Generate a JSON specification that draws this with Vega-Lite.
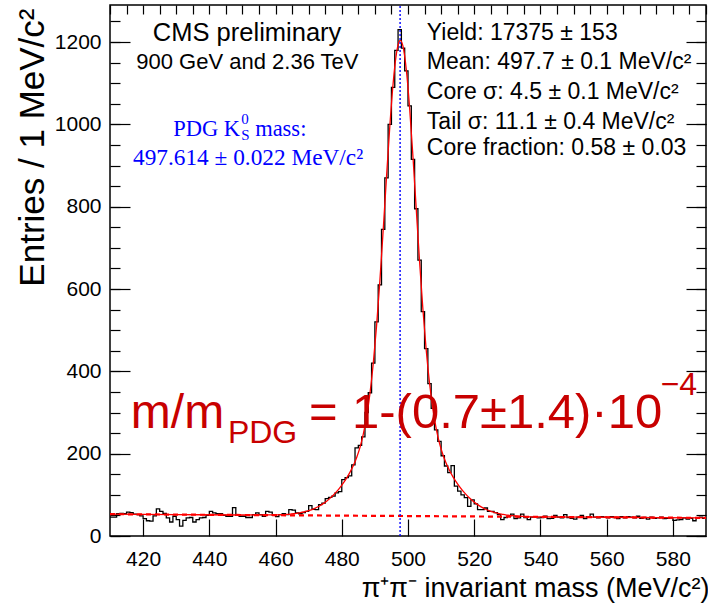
{
 "$schema": "https://vega.github.io/schema/vega-lite/v6.json",
 "width": 596, "height": 531,
 "autosize": {"type": "none"},
 "padding": {"left": 110, "top": 5, "right": 2, "bottom": 67},
 "background": "white",
 "config": {
  "view": {"stroke": "black", "strokeWidth": 1.5},
  "font": "Liberation Sans",
  "axis": {"grid": false, "domain": false, "tickColor": "black", "tickWidth": 1.2, "labelColor": "black", "titleColor": "black", "labelFont": "Liberation Sans", "titleFont": "Liberation Sans", "titleFontWeight": "normal", "labelFontSize": 21}
 },
 "datasets": {
  "hist": [
   {"m":410,"n":46},{"m":411,"n":46},{"m":412,"n":54},{"m":413,"n":55},{"m":414,"n":54},{"m":415,"n":58},{"m":416,"n":57},{"m":417,"n":53},{"m":418,"n":52},{"m":419,"n":49},
   {"m":420,"n":42},{"m":421,"n":37},{"m":422,"n":36},{"m":423,"n":49},{"m":424,"n":66},{"m":425,"n":60},{"m":426,"n":55},{"m":427,"n":44},{"m":428,"n":34},{"m":429,"n":48},
   {"m":430,"n":40},{"m":431,"n":24},{"m":432,"n":38},{"m":433,"n":44},{"m":434,"n":45},{"m":435,"n":34},{"m":436,"n":40},{"m":437,"n":44},{"m":438,"n":45},{"m":439,"n":50},
   {"m":440,"n":60},{"m":441,"n":56},{"m":442,"n":54},{"m":443,"n":54},{"m":444,"n":50},{"m":445,"n":48},{"m":446,"n":48},{"m":447,"n":69},{"m":448,"n":50},{"m":449,"n":48},
   {"m":450,"n":48},{"m":451,"n":45},{"m":452,"n":45},{"m":453,"n":52},{"m":454,"n":56},{"m":455,"n":52},{"m":456,"n":48},{"m":457,"n":60},{"m":458,"n":58},{"m":459,"n":50},
   {"m":460,"n":47},{"m":461,"n":52},{"m":462,"n":54},{"m":463,"n":52},{"m":464,"n":64},{"m":465,"n":63},{"m":466,"n":56},{"m":467,"n":54},{"m":468,"n":57},{"m":469,"n":60},
   {"m":470,"n":74},{"m":471,"n":65},{"m":472,"n":64},{"m":473,"n":76},{"m":474,"n":80},{"m":475,"n":91},{"m":476,"n":94},{"m":477,"n":97},{"m":478,"n":105},{"m":479,"n":108},
   {"m":480,"n":137},{"m":481,"n":142},{"m":482,"n":146},{"m":483,"n":173},{"m":484,"n":214},{"m":485,"n":220},{"m":486,"n":241},{"m":487,"n":300},{"m":488,"n":348},{"m":489,"n":420},
   {"m":490,"n":520},{"m":491,"n":610},{"m":492,"n":745},{"m":493,"n":870},{"m":494,"n":1000},{"m":495,"n":1090},{"m":496,"n":1180},{"m":497,"n":1230},{"m":498,"n":1185},{"m":499,"n":1130},
   {"m":500,"n":1045},{"m":501,"n":915},{"m":502,"n":795},{"m":503,"n":670},{"m":504,"n":545},{"m":505,"n":455},{"m":506,"n":370},{"m":507,"n":310},{"m":508,"n":258},{"m":509,"n":230},
   {"m":510,"n":195},{"m":511,"n":170},{"m":512,"n":154},{"m":513,"n":171},{"m":514,"n":121},{"m":515,"n":109},{"m":516,"n":100},{"m":517,"n":93},{"m":518,"n":72},{"m":519,"n":88},
   {"m":520,"n":78},{"m":521,"n":64},{"m":522,"n":64},{"m":523,"n":68},{"m":524,"n":60},{"m":525,"n":60},{"m":526,"n":57},{"m":527,"n":52},{"m":528,"n":40},{"m":529,"n":45},
   {"m":530,"n":48},{"m":531,"n":53},{"m":532,"n":42},{"m":533,"n":44},{"m":534,"n":53},{"m":535,"n":45},{"m":536,"n":40},{"m":537,"n":46},{"m":538,"n":47},{"m":539,"n":44},
   {"m":540,"n":45},{"m":541,"n":48},{"m":542,"n":42},{"m":543,"n":43},{"m":544,"n":50},{"m":545,"n":46},{"m":546,"n":44},{"m":547,"n":52},{"m":548,"n":45},{"m":549,"n":43},
   {"m":550,"n":41},{"m":551,"n":46},{"m":552,"n":50},{"m":553,"n":42},{"m":554,"n":47},{"m":555,"n":53},{"m":556,"n":46},{"m":557,"n":44},{"m":558,"n":47},{"m":559,"n":46},
   {"m":560,"n":44},{"m":561,"n":47},{"m":562,"n":45},{"m":563,"n":42},{"m":564,"n":47},{"m":565,"n":44},{"m":566,"n":47},{"m":567,"n":46},{"m":568,"n":44},{"m":569,"n":48},
   {"m":570,"n":43},{"m":571,"n":45},{"m":572,"n":41},{"m":573,"n":46},{"m":574,"n":43},{"m":575,"n":44},{"m":576,"n":46},{"m":577,"n":42},{"m":578,"n":43},{"m":579,"n":44},
   {"m":580,"n":38},{"m":581,"n":39},{"m":582,"n":40},{"m":583,"n":44},{"m":584,"n":41},{"m":585,"n":43},{"m":586,"n":37},{"m":587,"n":44},{"m":588,"n":46},{"m":589,"n":43},
   {"m":590,"n":43}
  ],
  "fit": [
   {"m":410,"f":53.0},{"m":430,"f":52.0},{"m":450,"f":51.0},{"m":460.5,"f":51.5},{"m":461.5,"f":51.7},{"m":462.5,"f":52.1},{"m":463.5,"f":52.6},{"m":464.5,"f":53.3},
   {"m":465.5,"f":54.1},{"m":466.5,"f":55.3},{"m":467.5,"f":56.6},{"m":468.5,"f":58.3},{"m":469.5,"f":60.4},{"m":470.5,"f":63.0},{"m":471.5,"f":66.1},{"m":472.5,"f":69.8},
   {"m":473.5,"f":74.2},{"m":474.5,"f":79.3},{"m":475.5,"f":85.2},{"m":476.5,"f":92.0},{"m":477.5,"f":99.7},{"m":478.5,"f":108.4},{"m":479.5,"f":118.1},{"m":480.5,"f":129.1},
   {"m":481.5,"f":141.2},{"m":482.5,"f":155.1},{"m":483.5,"f":171.1},{"m":484.5,"f":190.7},{"m":485.5,"f":215.2},{"m":486.5,"f":247.3},{"m":487.5,"f":289.6},{"m":488.5,"f":345.6},
   {"m":489.5,"f":418.5},{"m":490.5,"f":509.9},{"m":491.5,"f":619.1},{"m":492.5,"f":742.1},{"m":493.5,"f":870.9},{"m":494.5,"f":994.2},{"m":495.5,"f":1098.7},{"m":496.5,"f":1171.7},
   {"m":497.5,"f":1203.4},{"m":497.7,"f":1204.3},{"m":498.5,"f":1189.6},{"m":499.5,"f":1132.1},{"m":500.5,"f":1038.8},{"m":501.5,"f":921.3},{"m":502.5,"f":793.1},{"m":503.5,"f":666.4},
   {"m":504.5,"f":551.0},{"m":505.5,"f":452.0},{"m":506.5,"f":371.8},{"m":507.5,"f":309.3},{"m":508.5,"f":261.6},{"m":509.5,"f":225.8},{"m":510.5,"f":198.5},{"m":511.5,"f":177.1},
   {"m":512.5,"f":159.7},{"m":513.5,"f":144.9},{"m":514.5,"f":132.0},{"m":515.5,"f":120.5},{"m":516.5,"f":110.2},{"m":517.5,"f":101.1},{"m":518.5,"f":92.9},{"m":519.5,"f":85.6},
   {"m":520.5,"f":79.3},{"m":521.5,"f":73.7},{"m":522.5,"f":69.0},{"m":523.5,"f":64.9},{"m":524.5,"f":61.5},{"m":525.5,"f":58.6},{"m":526.5,"f":56.3},{"m":527.5,"f":54.2},
   {"m":528.5,"f":52.7},{"m":529.5,"f":51.3},{"m":530.5,"f":50.3},{"m":531.5,"f":49.4},{"m":532.5,"f":48.8},{"m":533.5,"f":48.2},{"m":535.5,"f":47.3},{"m":540,"f":46.5},
   {"m":560,"f":45.5},{"m":590,"f":44.0}
  ],
  "bkg": [{"m":410,"b":53},{"m":590,"b":44}],
  "one": [{}]
 },
 "resolve": {"axis": {"x": "independent", "y": "independent"}},
 "layer": [
  {
   "data": {"name": "hist"},
   "mark": {"type": "line", "interpolate": "step-after", "color": "black", "strokeWidth": 1.3},
   "encoding": {
    "x": {"field": "m", "type": "quantitative", "scale": {"domain": [410, 590], "nice": false, "zero": false},
     "axis": {"values": [420,440,460,480,500,520,540,560,580], "tickSize": -17, "labelPadding": 29, "format": "d",
      "title": "π⁺π⁻ invariant mass (MeV/c²)", "titleFontSize": 27, "titleAlign": "right", "titleBaseline": "alphabetic", "titleX": 599, "titleY": 60, "titleAngle": 0}},
    "y": {"field": "n", "type": "quantitative", "scale": {"domain": [0, 1290], "nice": false, "zero": false},
     "axis": {"values": [0,200,400,600,800,1000,1200], "tickSize": -20, "labelPadding": 29, "format": "d",
      "title": "Entries / 1 MeV/c²", "titleFontSize": 35, "titleAngle": 270, "titleAlign": "right", "titleBaseline": "alphabetic", "titleX": -67, "titleY": 3}}
   }
  },
  {
   "data": {"name": "fit"},
   "mark": {"type": "line", "interpolate": "monotone", "color": "#ff0000", "strokeWidth": 1.3},
   "encoding": {
    "x": {"field": "m", "type": "quantitative", "scale": {"domain": [410, 590], "nice": false, "zero": false},
     "axis": {"values": [410,415,420,425,430,435,440,445,450,455,460,465,470,475,480,485,490,495,500,505,510,515,520,525,530,535,540,545,550,555,560,565,570,575,580,585,590], "tickSize": -9, "labels": false, "title": null}},
    "y": {"field": "f", "type": "quantitative", "scale": {"domain": [0, 1290], "nice": false, "zero": false},
     "axis": {"values": [0,50,100,150,200,250,300,350,400,450,500,550,600,650,700,750,800,850,900,950,1000,1050,1100,1150,1200,1250], "tickSize": -10, "labels": false, "title": null, "orient": "left"}}
   }
  },
  {
   "data": {"name": "bkg"},
   "mark": {"type": "line", "color": "#ff0000", "strokeWidth": 2.2, "strokeDash": [5, 4]},
   "encoding": {
    "x": {"field": "m", "type": "quantitative", "scale": {"domain": [410, 590], "nice": false, "zero": false}, "axis": null},
    "y": {"field": "b", "type": "quantitative", "scale": {"domain": [0, 1290], "nice": false, "zero": false},
     "axis": {"values": [0,200,400,600,800,1000,1200], "tickSize": -20, "labels": false, "title": null, "orient": "right"}}
   }
  },
  {
   "data": {"name": "one"},
   "mark": {"type": "rule", "color": "#0000ff", "strokeWidth": 1.4, "strokeDash": [2, 2]},
   "encoding": {
    "x": {"datum": 497.614, "type": "quantitative", "scale": {"domain": [410, 590], "nice": false, "zero": false}, "axis": null},
    "y": {"datum": 0, "type": "quantitative", "scale": {"domain": [0, 1290], "nice": false, "zero": false},
     "axis": {"values": [0,50,100,150,200,250,300,350,400,450,500,550,600,650,700,750,800,850,900,950,1000,1050,1100,1150,1200,1250], "tickSize": -10, "labels": false, "title": null, "orient": "right"}},
    "y2": {"datum": 1290}
   }
  },
  {
   "data": {"name": "one"},
   "mark": {"type": "text", "text": "CMS preliminary", "fontSize": 25.5, "align": "center", "baseline": "middle", "color": "black", "font": "Liberation Sans"},
   "encoding": {"x": {"datum": 451.4, "type": "quantitative", "axis": null}, "y": {"datum": 1223, "type": "quantitative", "axis": null}}
  },
  {
   "data": {"name": "one"},
   "mark": {"type": "text", "text": "900 GeV and 2.36 TeV", "fontSize": 22, "align": "center", "baseline": "middle", "color": "black", "font": "Liberation Sans"},
   "encoding": {"x": {"datum": 451.5, "type": "quantitative", "axis": null}, "y": {"datum": 1152, "type": "quantitative", "axis": null}}
  },
  {
   "data": {"name": "one"},
   "mark": {"type": "text", "text": "PDG K", "fontSize": 22.5, "align": "right", "baseline": "middle", "color": "#0000ff", "font": "Liberation Serif"},
   "encoding": {"x": {"datum": 449.3, "type": "quantitative", "axis": null}, "y": {"datum": 988, "type": "quantitative", "axis": null}}
  },
  {
   "data": {"name": "one"},
   "mark": {"type": "text", "text": "0", "fontSize": 15, "align": "left", "baseline": "middle", "dx": 1, "dy": -10, "color": "#0000ff", "font": "Liberation Serif"},
   "encoding": {"x": {"datum": 449.3, "type": "quantitative", "axis": null}, "y": {"datum": 988, "type": "quantitative", "axis": null}}
  },
  {
   "data": {"name": "one"},
   "mark": {"type": "text", "text": "S", "fontSize": 15, "align": "left", "baseline": "middle", "dx": 1, "dy": 6, "color": "#0000ff", "font": "Liberation Serif"},
   "encoding": {"x": {"datum": 449.3, "type": "quantitative", "axis": null}, "y": {"datum": 988, "type": "quantitative", "axis": null}}
  },
  {
   "data": {"name": "one"},
   "mark": {"type": "text", "text": "mass:", "fontSize": 22.5, "align": "left", "baseline": "middle", "dx": 15, "color": "#0000ff", "font": "Liberation Serif"},
   "encoding": {"x": {"datum": 449.3, "type": "quantitative", "axis": null}, "y": {"datum": 988, "type": "quantitative", "axis": null}}
  },
  {
   "data": {"name": "one"},
   "mark": {"type": "text", "text": "497.614 ± 0.022 MeV/c²", "fontSize": 23.3, "align": "center", "baseline": "middle", "color": "#0000ff", "font": "Liberation Serif"},
   "encoding": {"x": {"datum": 451.7, "type": "quantitative", "axis": null}, "y": {"datum": 918, "type": "quantitative", "axis": null}}
  },
  {
   "data": {"name": "one"},
   "mark": {"type": "text", "text": "Yield: 17375 ± 153", "fontSize": 23, "align": "left", "baseline": "middle", "color": "black", "font": "Liberation Sans"},
   "encoding": {"x": {"datum": 505.7, "type": "quantitative", "axis": null}, "y": {"datum": 1221.3, "type": "quantitative", "axis": null}}
  },
  {
   "data": {"name": "one"},
   "mark": {"type": "text", "text": "Mean: 497.7 ± 0.1 MeV/c²", "fontSize": 23, "align": "left", "baseline": "middle", "color": "black", "font": "Liberation Sans"},
   "encoding": {"x": {"datum": 505.7, "type": "quantitative", "axis": null}, "y": {"datum": 1152.1, "type": "quantitative", "axis": null}}
  },
  {
   "data": {"name": "one"},
   "mark": {"type": "text", "text": "Core σ: 4.5 ± 0.1 MeV/c²", "fontSize": 23, "align": "left", "baseline": "middle", "color": "black", "font": "Liberation Sans"},
   "encoding": {"x": {"datum": 505.7, "type": "quantitative", "axis": null}, "y": {"datum": 1079.3, "type": "quantitative", "axis": null}}
  },
  {
   "data": {"name": "one"},
   "mark": {"type": "text", "text": "Tail σ: 11.1 ± 0.4 MeV/c²", "fontSize": 23, "align": "left", "baseline": "middle", "color": "black", "font": "Liberation Sans"},
   "encoding": {"x": {"datum": 505.7, "type": "quantitative", "axis": null}, "y": {"datum": 1006.5, "type": "quantitative", "axis": null}}
  },
  {
   "data": {"name": "one"},
   "mark": {"type": "text", "text": "Core fraction: 0.58 ± 0.03", "fontSize": 23, "align": "left", "baseline": "middle", "color": "black", "font": "Liberation Sans"},
   "encoding": {"x": {"datum": 505.7, "type": "quantitative", "axis": null}, "y": {"datum": 941.8, "type": "quantitative", "axis": null}}
  },
  {
   "data": {"name": "one"},
   "mark": {"type": "text", "text": "m/m", "fontSize": 48, "align": "left", "baseline": "alphabetic", "color": "#c80000", "font": "Liberation Sans"},
   "encoding": {"x": {"datum": 416.3, "type": "quantitative", "axis": null}, "y": {"datum": 262.4, "type": "quantitative", "axis": null}}
  },
  {
   "data": {"name": "one"},
   "mark": {"type": "text", "text": "PDG", "fontSize": 32, "align": "left", "baseline": "alphabetic", "color": "#c80000", "font": "Liberation Sans"},
   "encoding": {"x": {"datum": 445.6, "type": "quantitative", "axis": null}, "y": {"datum": 225.9, "type": "quantitative", "axis": null}}
  },
  {
   "data": {"name": "one"},
   "mark": {"type": "text", "text": "=", "fontSize": 49, "align": "left", "baseline": "alphabetic", "color": "#c80000", "font": "Liberation Sans"},
   "encoding": {"x": {"datum": 470.1, "type": "quantitative", "axis": null}, "y": {"datum": 262.4, "type": "quantitative", "axis": null}}
  },
  {
   "data": {"name": "one"},
   "mark": {"type": "text", "text": "1-(0.7±1.4)·10", "fontSize": 49, "align": "left", "baseline": "alphabetic", "color": "#c80000", "font": "Liberation Sans"},
   "encoding": {"x": {"datum": 483.1, "type": "quantitative", "axis": null}, "y": {"datum": 262.4, "type": "quantitative", "axis": null}}
  },
  {
   "data": {"name": "one"},
   "mark": {"type": "text", "text": "−4", "fontSize": 32, "align": "left", "baseline": "alphabetic", "color": "#c80000", "font": "Liberation Sans"},
   "encoding": {"x": {"datum": 576.3, "type": "quantitative", "axis": null}, "y": {"datum": 342, "type": "quantitative", "axis": null}}
  }
 ]
}
